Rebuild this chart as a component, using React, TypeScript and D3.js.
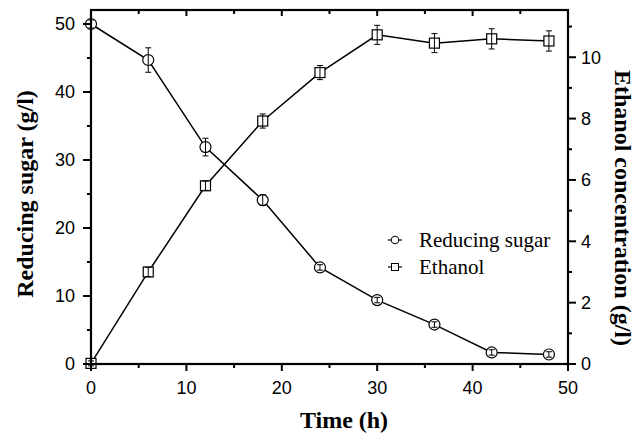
import React from 'react';
import * as d3 from 'd3';

const times = [0, 6, 12, 18, 24, 30, 36, 42, 48];
const sugar = [50, 44.7, 31.9, 24.1, 14.2, 9.4, 5.8, 1.7, 1.4];
const sugarErr = [0.6, 1.8, 1.3, 0.8, 0.4, 0.4, 0.4, 0.4, 0.4];
const ethanol = [0.02, 3.0, 5.81, 7.92, 9.5, 10.73, 10.46, 10.6, 10.53];
const ethanolErr = [0.08, 0.15, 0.15, 0.23, 0.23, 0.31, 0.31, 0.33, 0.33];

const xTicks = [0, 10, 20, 30, 40, 50];
const leftTicks = [0, 10, 20, 30, 40, 50];
const rightTicks = [0, 2, 4, 6, 8, 10];

const W = 644;
const H = 433;
const m = { left: 91, right: 568, top: 10, bottom: 364 };

const App = () => {
  const x = d3.scaleLinear().domain([0, 50]).range([m.left, m.right]);
  const yL = d3.scaleLinear().domain([0, 52.06]).range([m.bottom, m.top]);
  const yR = d3.scaleLinear().domain([0, 11.54]).range([m.bottom, m.top]);

  const line = (ys, sc) =>
    d3.line().x((d, i) => x(times[i])).y((d) => sc(d))(ys);

  const serif = '"Liberation Serif", "Times New Roman", serif';
  const sans = '"Liberation Sans", Arial, sans-serif';

  const xMinor = d3.range(5, 50, 10);
  const leftMinor = d3.range(5, 52, 10);
  const rightMinor = d3.range(1, 12, 2);

  const errBars = (vals, errs, sc, key) =>
    vals.map((v, i) => {
      const cx = x(times[i]);
      const y1 = sc(v + errs[i]);
      const y2 = sc(v - errs[i]);
      return (
        <g key={key + i} stroke="#000" strokeWidth={1}>
          <line x1={cx} x2={cx} y1={y1} y2={y2} />
          <line x1={cx - 3} x2={cx + 3} y1={y1} y2={y1} />
          <line x1={cx - 3} x2={cx + 3} y1={y2} y2={y2} />
        </g>
      );
    });

  return (
    <svg width={W} height={H} style={{ position: 'absolute', left: 0, top: 0 }}>
      <rect width={W} height={H} fill="#fff" />

      {/* data lines */}
      <path d={line(sugar, yL)} fill="none" stroke="#000" strokeWidth={1.5} />
      <path d={line(ethanol, yR)} fill="none" stroke="#000" strokeWidth={1.5} />

      {/* markers */}
      {sugar.map((v, i) => (
        <circle key={'c' + i} cx={x(times[i])} cy={yL(v)} r={5.5} fill="#fff" stroke="#000" strokeWidth={1.2} />
      ))}
      {ethanol.map((v, i) => (
        <rect key={'s' + i} x={x(times[i]) - 5} y={yR(v) - 5} width={10} height={10} fill="#fff" stroke="#000" strokeWidth={1.2} />
      ))}
      {errBars(sugar, sugarErr, yL, 'es')}
      {errBars(ethanol, ethanolErr, yR, 'ee')}

      {/* frame */}
      <rect x={m.left} y={m.top} width={m.right - m.left} height={m.bottom - m.top} fill="none" stroke="#000" strokeWidth={2.2} />

      {/* bottom & top ticks */}
      {xTicks.map((t) => (
        <g key={'xt' + t}>
          <line x1={x(t)} x2={x(t)} y1={m.bottom} y2={m.bottom + 7} stroke="#000" strokeWidth={2} />
          <line x1={x(t)} x2={x(t)} y1={m.top} y2={m.top + 6} stroke="#000" strokeWidth={2} />
          <text x={x(t)} y={394} textAnchor="middle" fontFamily={sans} fontSize={18}>{t}</text>
        </g>
      ))}
      {xMinor.map((t) => (
        <g key={'xm' + t}>
          <line x1={x(t)} x2={x(t)} y1={m.bottom} y2={m.bottom + 4} stroke="#000" strokeWidth={2} />
          <line x1={x(t)} x2={x(t)} y1={m.top} y2={m.top + 4} stroke="#000" strokeWidth={2} />
        </g>
      ))}

      {/* left ticks */}
      {leftTicks.map((t) => (
        <g key={'lt' + t}>
          <line x1={m.left - 8} x2={m.left} y1={yL(t)} y2={yL(t)} stroke="#000" strokeWidth={2} />
          <text x={m.left - 16} y={yL(t)} dy="0.35em" textAnchor="end" fontFamily={sans} fontSize={18}>{t}</text>
        </g>
      ))}
      {leftMinor.map((t) => (
        <line key={'lm' + t} x1={m.left - 4} x2={m.left} y1={yL(t)} y2={yL(t)} stroke="#000" strokeWidth={2} />
      ))}

      {/* right ticks */}
      {rightTicks.map((t) => (
        <g key={'rt' + t}>
          <line x1={m.right} x2={m.right + 8} y1={yR(t)} y2={yR(t)} stroke="#000" strokeWidth={2} />
          <text x={m.right + 13} y={yR(t)} dy="0.35em" textAnchor="start" fontFamily={sans} fontSize={18}>{t}</text>
        </g>
      ))}
      {rightMinor.map((t) => (
        <line key={'rm' + t} x1={m.right} x2={m.right + 4} y1={yR(t)} y2={yR(t)} stroke="#000" strokeWidth={2} />
      ))}

      {/* axis titles */}
      <text x={344} y={428} textAnchor="middle" fontFamily={serif} fontWeight="bold" fontSize={24}>Time (h)</text>
      <text transform="translate(25,194) rotate(-90)" textAnchor="middle" dy="0.35em" fontFamily={serif} fontWeight="bold" fontSize={24}>Reducing sugar (g/l)</text>
      <text transform="translate(623,208) rotate(90)" textAnchor="middle" dy="0.35em" fontFamily={serif} fontWeight="bold" fontSize={24}>Ethanol concentration (g/l)</text>

      {/* legend */}
      <g>
        <line x1={388} x2={402} y1={240} y2={240} stroke="#000" strokeWidth={1.2} />
        <circle cx={395} cy={240} r={3.8} fill="#fff" stroke="#000" strokeWidth={1} />
        <text x={419} y={247} fontFamily={serif} fontSize={21}>Reducing sugar</text>
        <line x1={388} x2={402} y1={267} y2={267} stroke="#000" strokeWidth={1.2} />
        <rect x={391.5} y={263.5} width={7} height={7} fill="#fff" stroke="#000" strokeWidth={1} />
        <text x={419} y={274} fontFamily={serif} fontSize={21}>Ethanol</text>
      </g>
    </svg>
  );
};

export default App;
